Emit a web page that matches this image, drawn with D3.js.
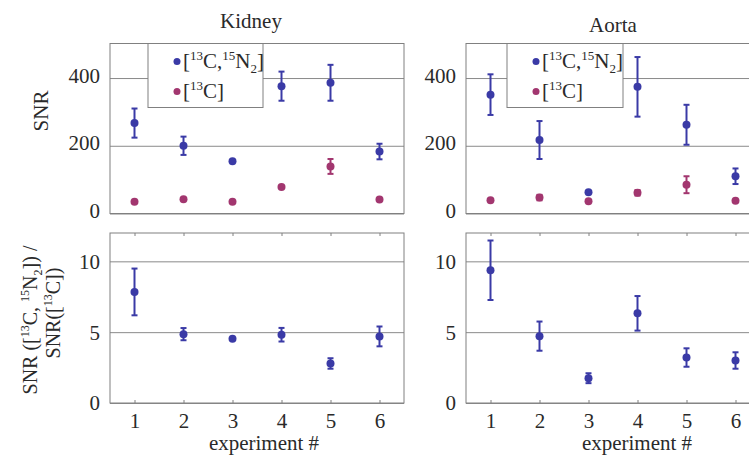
<!DOCTYPE html>
<html>
<head>
<meta charset="utf-8">
<script src="https://cdn.jsdelivr.net/npm/d3@7"></script>
<style>
body{margin:0;background:#fff;}
svg text{font-family:"Liberation Serif","DejaVu Serif","Times New Roman",serif !important;fill:#2a2a2a;}
</style>
</head>
<body>
<svg id="chart" width="749" height="464" font-family="Liberation Serif, DejaVu Serif, serif"></svg>
<script>
// values
var experiments = [1,2,3,4,5,6];
var kidneyDual = [267,200,154,376,386,183];
var kidneyDualErr = [43,27,0,43,53,23];
var kidneySingle = [35,42,35,78,139,41];
var kidneySingleErr = [0,0,0,0,22,0];
var aortaDual = [351,217,63,374,262,110];
var aortaDualErr = [60,56,0,88,59,23];
var aortaSingle = [39,47,36,61,85,38];
var aortaSingleErr = [0,8,0,8,25,0];
var kidneyRatio = [7.84,4.86,4.53,4.82,2.79,4.70];
var kidneyRatioErr = [1.65,0.43,0,0.48,0.37,0.70];
var aortaRatio = [9.37,4.72,1.75,6.33,3.21,3.00];
var aortaRatioErr = [2.10,1.03,0.35,1.22,0.65,0.58];
var snrTicks = [0,200,400];
var ratioTicks = [0,5,10];

var blue = "#3a3aa6", pink = "#a2366f";
var gridColor = "#8a8a8a", frameColor = "#808080";
var serif = "Liberation Serif, DejaVu Serif, serif";

var svg = d3.select("#chart");

// text with super/subscripts: parts = [[str, "n"|"sup"|"sub"], ...]
function richText(t, parts, fs){
	var shift = 0;
	t.attr("font-family", serif);
	parts.forEach(function(p){
		var target = p[1]=="sup" ? -fs*0.38 : (p[1]=="sub" ? fs*0.25 : 0);
		t.append("tspan")
			.attr("dy", target - shift)
			.style("font-size", p[1]=="n" ? fs+"px" : Math.round(fs*0.62)+"px")
			.text(p[0]);
		shift = target;
	});
}

function drawPanel(left, right, top, bottom, domainY, ticks, series, opts){
	var g = svg.append("g");
	var x = d3.scaleLinear().domain([0.5,6.5]).range([left,right]);
	var y = d3.scaleLinear().domain(domainY).range([bottom,top]);

	// gridlines + y labels
	var ax = g.append("g")
		.attr("transform","translate("+left+",0)")
		.call(d3.axisLeft(y).tickValues(ticks).tickSize(-(right-left)).tickPadding(10));
	ax.attr("font-family", serif).attr("font-size", 21);
	ax.select(".domain").remove();
	ax.selectAll("line").attr("stroke",gridColor);
	ax.selectAll("text")
		.attr("dy", opts.tickDy)
		.attr("fill","#2a2a2a");

	// frame
	g.append("rect")
		.attr("x",left).attr("y",top)
		.attr("width",right-left).attr("height",bottom-top)
		.attr("fill","none").attr("stroke",frameColor);

	if (opts.xLabels){
		var bx = g.append("g")
			.attr("transform","translate(0,"+bottom+")")
			.call(d3.axisBottom(x).tickValues(experiments).tickSize(-3).tickPadding(10).tickFormat(d3.format("d")));
		bx.attr("font-family", serif).attr("font-size", 21);
		bx.select(".domain").remove();
		bx.selectAll("line").attr("stroke",frameColor);
		bx.selectAll("text").attr("fill","#2a2a2a");
		var tx = g.append("g")
			.attr("transform","translate(0,"+top+")")
			.call(d3.axisTop(x).tickValues(experiments).tickSize(-3).tickFormat(""));
		tx.select(".domain").remove();
		tx.selectAll("line").attr("stroke",frameColor);
	}

	if (opts.legend){
		var L = opts.legend;
		var lg = g.append("g");
		lg.append("rect")
			.attr("x",L.x).attr("y",top)
			.attr("width",L.w).attr("height",64)
			.attr("fill","#fff").attr("stroke",frameColor);
		lg.append("circle").attr("cx",L.x+29).attr("cy",top+18).attr("r",3.5).attr("fill",blue);
		lg.append("circle").attr("cx",L.x+29).attr("cy",top+48).attr("r",3.5).attr("fill",pink);
		richText(lg.append("text").attr("x",L.x+35).attr("y",top+24),
			[["[","n"],["13","sup"],["C,","n"],["15","sup"],["N","n"],["2","sub"],["]","n"]], 21);
		richText(lg.append("text").attr("x",L.x+35).attr("y",top+54),
			[["[","n"],["13","sup"],["C]","n"]], 21);
	}

	series.forEach(function(s){
		var pts = experiments.map(function(e,i){ return {x:e, v:s.values[i], e:s.errs[i]}; });
		var sg = g.append("g");
		var eb = sg.selectAll(".err").data(pts.filter(function(d){ return d.e>0; }))
			.enter().append("g").attr("class","err")
			.attr("stroke",s.color).attr("stroke-width",2);
		eb.append("line")
			.attr("x1",function(d){ return x(d.x); }).attr("x2",function(d){ return x(d.x); })
			.attr("y1",function(d){ return y(d.v-d.e); }).attr("y2",function(d){ return y(d.v+d.e); });
		eb.append("line")
			.attr("x1",function(d){ return x(d.x)-3; }).attr("x2",function(d){ return x(d.x)+3; })
			.attr("y1",function(d){ return y(d.v-d.e); }).attr("y2",function(d){ return y(d.v-d.e); });
		eb.append("line")
			.attr("x1",function(d){ return x(d.x)-3; }).attr("x2",function(d){ return x(d.x)+3; })
			.attr("y1",function(d){ return y(d.v+d.e); }).attr("y2",function(d){ return y(d.v+d.e); });
		sg.selectAll("circle").data(pts).enter().append("circle")
			.attr("cx",function(d){ return x(d.x); })
			.attr("cy",function(d){ return y(d.v); })
			.attr("r",4)
			.attr("fill",s.color);
	});
}

// top: SNR
drawPanel(110,404,43.5,213.5,[0,502],snrTicks,
	[{values:kidneySingle,errs:kidneySingleErr,color:pink},{values:kidneyDual,errs:kidneyDualErr,color:blue}],
	{tickDy:"0.2em", legend:{x:148,w:115}});
drawPanel(466,760,43.5,213.5,[0,502],snrTicks,
	[{values:aortaSingle,errs:aortaSingleErr,color:pink},{values:aortaDual,errs:aortaDualErr,color:blue}],
	{tickDy:"0.2em", legend:{x:507,w:116}});
// bottom: ratio
drawPanel(110,404,233,403,[0,12],ratioTicks,
	[{values:kidneyRatio,errs:kidneyRatioErr,color:blue}],
	{tickDy:"0.33em", xLabels:true});
drawPanel(466,760,233,403,[0,12],ratioTicks,
	[{values:aortaRatio,errs:aortaRatioErr,color:blue}],
	{tickDy:"0.33em", xLabels:true});

// titles
function label(x, y, str){
	return svg.append("text").attr("x",x).attr("y",y).attr("text-anchor","middle")
		.attr("font-family",serif).style("font-size","21px").text(str);
}
label(251,28,"Kidney");
label(613,32,"Aorta");
label(264,450,"experiment #");
label(637,450,"experiment #");

// y axis titles
svg.append("text").attr("transform","translate(48,111) rotate(-90)")
	.attr("text-anchor","middle").attr("font-family",serif).style("font-size","21px").text("SNR");
richText(svg.append("text").attr("transform","translate(37,320) rotate(-90)")
	.attr("text-anchor","middle").style("font-size","20px"),
	[["SNR ([","n"],["13","sup"],["C, ","n"],["15","sup"],["N","n"],["2","sub"],["]) /","n"]], 20);
richText(svg.append("text").attr("transform","translate(60,313) rotate(-90)")
	.attr("text-anchor","middle").style("font-size","20px"),
	[["SNR([","n"],["13","sup"],["C])","n"]], 20);
</script>
</body>
</html>
